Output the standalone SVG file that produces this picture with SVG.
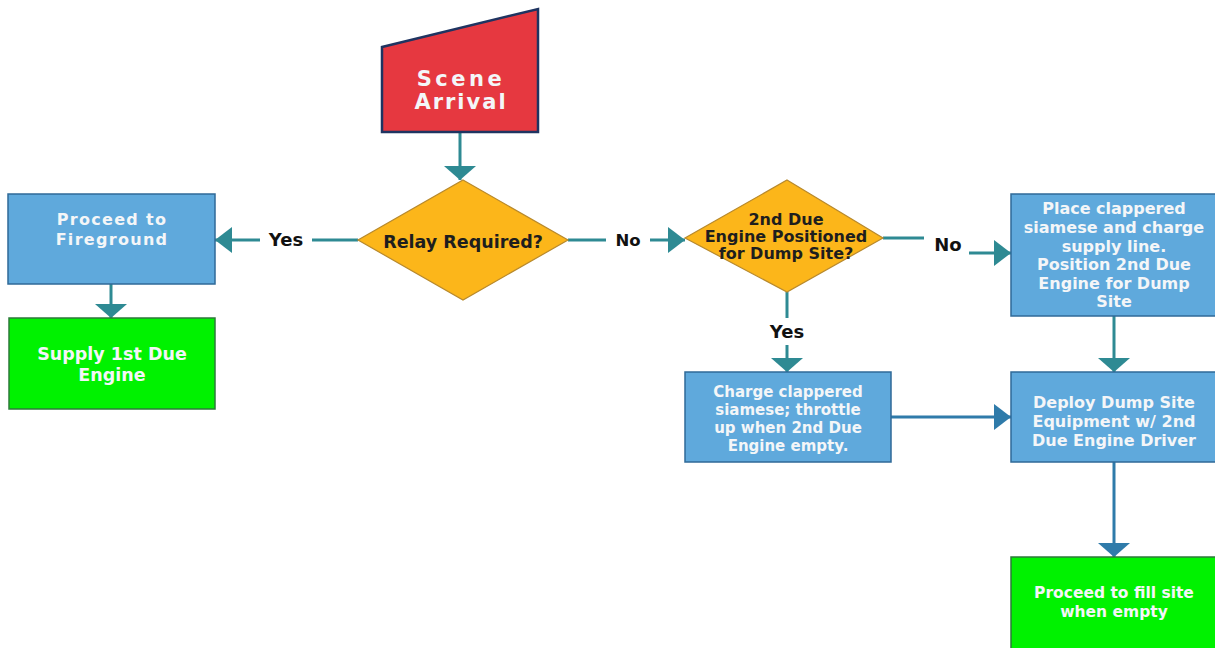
<svg xmlns="http://www.w3.org/2000/svg" width="1215" height="648" viewBox="0 0 1215 648">
<style>
.box{fill:#5FA9DC;stroke:#2F6A98;stroke-width:1.5}
.grn{fill:#00F200;stroke:#2D7A3A;stroke-width:1.5}
.dia{fill:#FCB61A;stroke:#B8892C;stroke-width:1.2}
.t{font-family:"DejaVu Sans",sans-serif;font-weight:bold;fill:#F4F6F8;text-anchor:middle}
.dt{font-family:"DejaVu Sans",sans-serif;font-weight:bold;fill:#1E1E1E;text-anchor:middle}
.lbl{font-family:"DejaVu Sans",sans-serif;font-weight:bold;fill:#111;text-anchor:middle}
.ln{fill:none;stroke:#2E8A93;stroke-width:3}
.lb{fill:none;stroke:#2F7BAA;stroke-width:3}
</style>
<defs>
<marker id="ah" markerUnits="userSpaceOnUse" markerWidth="17" markerHeight="26" refX="17" refY="13" orient="auto"><path d="M0,0 L17,13 L0,26 z" fill="#2E8A93"/></marker>
<marker id="av" markerUnits="userSpaceOnUse" markerWidth="14" markerHeight="32" refX="14" refY="16" orient="auto"><path d="M0,0 L14,16 L0,32 z" fill="#2E8A93"/></marker>
<marker id="ahb" markerUnits="userSpaceOnUse" markerWidth="17" markerHeight="26" refX="17" refY="13" orient="auto"><path d="M0,0 L17,13 L0,26 z" fill="#2F7BAA"/></marker>
<marker id="avb" markerUnits="userSpaceOnUse" markerWidth="14" markerHeight="32" refX="14" refY="16" orient="auto"><path d="M0,0 L14,16 L0,32 z" fill="#2F7BAA"/></marker>
</defs>
<rect width="1215" height="648" fill="#FFFFFF"/>
<g id="connectors">
<path class="ln" d="M460,132 V180" marker-end="url(#av)"/>
<path class="ln" d="M358,240 H312"/>
<path class="ln" d="M260,240 H215" marker-end="url(#ah)"/>
<text class="lbl" x="286" y="246" font-size="18">Yes</text>
<path class="ln" d="M568,240 H606"/>
<path class="ln" d="M650,240 H685" marker-end="url(#ah)"/>
<text class="lbl" x="628" y="246" font-size="16.5">No</text>
<path class="ln" d="M111,284 V318" marker-end="url(#av)"/>
<path class="ln" d="M883,238 H924"/>
<path class="ln" d="M969,253 H1011" marker-end="url(#ah)"/>
<text class="lbl" x="948" y="251" font-size="18">No</text>
<path class="ln" d="M787,292 V318"/>
<path class="ln" d="M787,345 V372" marker-end="url(#av)"/>
<text class="lbl" x="787" y="338" font-size="18">Yes</text>
<path class="ln" d="M1114,316 V372" marker-end="url(#av)"/>
<path class="lb" d="M891,417 H1011" marker-end="url(#ahb)"/>
<path class="lb" d="M1114,462 V557" marker-end="url(#avb)"/>
</g>
<g id="scene-arrival">
<path d="M382,47 L538,9 V132 H382 Z" fill="#E63840" stroke="#1F3461" stroke-width="2.5"/>
<text class="t" x="461" y="86" font-size="21" letter-spacing="3.5">Scene</text>
<text class="t" x="461" y="109" font-size="21" letter-spacing="2">Arrival</text>
</g>
<g id="relay-required">
<polygon class="dia" points="463,180 568,240 463,300 358,240"/>
<text class="dt" x="463" y="248" font-size="17.5">Relay Required?</text>
</g>
<g id="proceed-fireground">
<rect class="box" x="8" y="194" width="207" height="90"/>
<text class="t" x="112" y="225" font-size="16" letter-spacing="1.3">Proceed to</text>
<text class="t" x="112" y="245" font-size="16" letter-spacing="1.3">Fireground</text>
</g>
<g id="supply-1st">
<rect class="grn" x="9" y="318" width="206" height="91"/>
<text class="t" x="112" y="360" font-size="17.5">Supply 1st Due</text>
<text class="t" x="112" y="381" font-size="17.5">Engine</text>
</g>
<g id="second-due-positioned">
<polygon class="dia" points="787,180 883,238 787,292 685,238"/>
<text class="dt" x="786" y="225" font-size="16">2nd Due</text>
<text class="dt" x="786" y="242" font-size="16">Engine Positioned</text>
<text class="dt" x="786" y="259" font-size="16">for Dump Site?</text>
</g>
<g id="place-clappered">
<rect class="box" x="1011" y="194" width="210" height="122"/>
<text class="t" x="1114" y="214" font-size="16">Place clappered</text>
<text class="t" x="1114" y="233" font-size="16">siamese and charge</text>
<text class="t" x="1114" y="252" font-size="16">supply line.</text>
<text class="t" x="1114" y="270" font-size="16">Position 2nd Due</text>
<text class="t" x="1114" y="289" font-size="16">Engine for Dump</text>
<text class="t" x="1114" y="307" font-size="16">Site</text>
</g>
<g id="charge-clappered">
<rect class="box" x="685" y="372" width="206" height="90"/>
<text class="t" x="788" y="397" font-size="15">Charge clappered</text>
<text class="t" x="788" y="415" font-size="15">siamese; throttle</text>
<text class="t" x="788" y="433" font-size="15">up when 2nd Due</text>
<text class="t" x="788" y="451" font-size="15">Engine empty.</text>
</g>
<g id="deploy-dump">
<rect class="box" x="1011" y="372" width="210" height="90"/>
<text class="t" x="1114" y="408" font-size="16">Deploy Dump Site</text>
<text class="t" x="1114" y="427" font-size="16">Equipment w/ 2nd</text>
<text class="t" x="1114" y="446" font-size="16">Due Engine Driver</text>
</g>
<g id="proceed-fill">
<rect class="grn" x="1011" y="557" width="210" height="100"/>
<text class="t" x="1114" y="598" font-size="15.5">Proceed to fill site</text>
<text class="t" x="1114" y="617" font-size="15.5">when empty</text>
</g>
</svg>
